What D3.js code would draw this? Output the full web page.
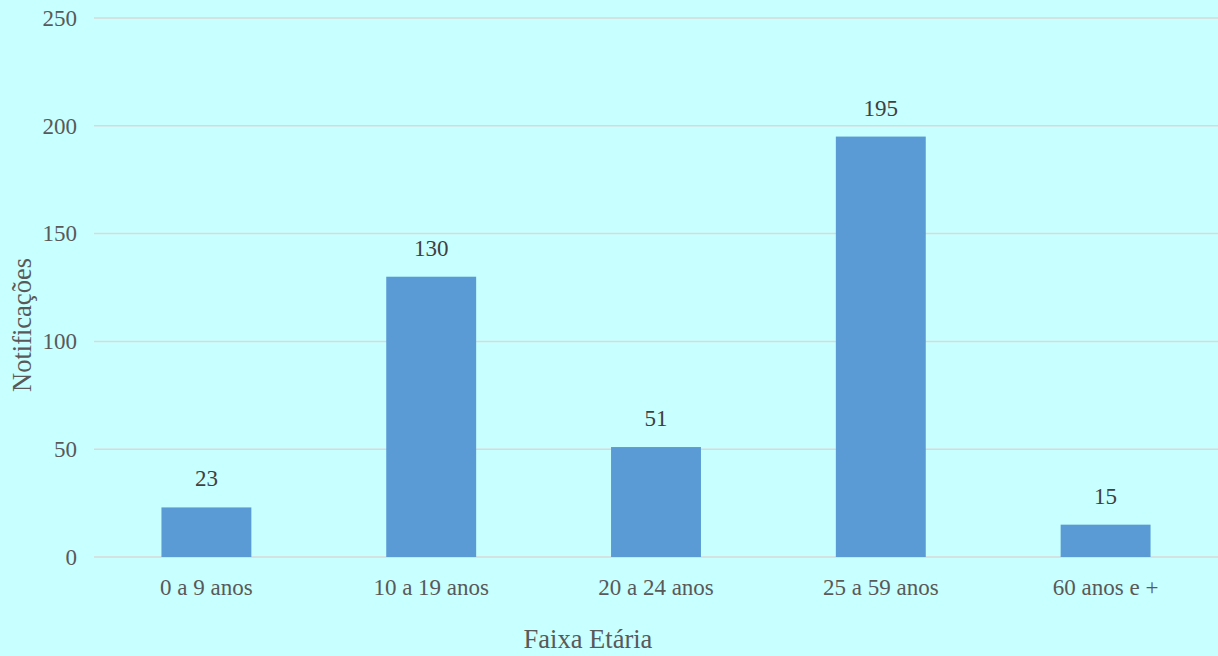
<!DOCTYPE html>
<html><head><meta charset="utf-8">
<script src="https://cdn.jsdelivr.net/npm/d3@7"></script>
<style>html,body{margin:0;padding:0;background:#C8FFFF;}svg{display:block;}</style>
</head><body>
<svg id="c" width="1218" height="656"></svg>
<script>
const categories = ["0 a 9 anos","10 a 19 anos","20 a 24 anos","25 a 59 anos","60 anos e +"];
const values = [23,130,51,195,15];
const yTicks = [0,50,100,150,200,250];

const W=1218,H=656;
const svg=d3.select("#c");
svg.append("rect").attr("width",W).attr("height",H).attr("fill","#C8FFFF");
const mLeft=94,mRight=1218,mTop=18,mBottom=557;
const x=d3.scaleBand().domain(categories).range([mLeft,mRight]).paddingInner(0.6).paddingOuter(0.3);
const y=d3.scaleLinear().domain([0,250]).range([mBottom,mTop]);
const font="Liberation Serif";

const g=svg.append("g");
g.selectAll("line.grid").data(yTicks).join("line")
 .attr("x1",mLeft).attr("x2",mRight).attr("y1",d=>y(d)).attr("y2",d=>y(d))
 .attr("stroke","#D9D9D9").attr("stroke-width",1.5);

const yAxis=d3.axisLeft(y).tickValues(yTicks).tickSize(0).tickPadding(0);
const ya=svg.append("g").attr("transform",`translate(77,0)`).call(yAxis);
ya.select(".domain").remove();
ya.attr("font-family",null).attr("font-size",null);
ya.selectAll("text").style("font-family",font).style("font-size","23px").attr("fill","#595959").attr("dy","0.32em");

g.selectAll("rect.bar").data(values).join("rect")
 .attr("x",(d,i)=>x(categories[i])).attr("width",x.bandwidth())
 .attr("y",d=>y(d)).attr("height",d=>y(0)-y(d)).attr("fill","#5B9BD5");

g.selectAll("text.lbl").data(values).join("text")
 .attr("x",(d,i)=>x(categories[i])+x.bandwidth()/2).attr("y",d=>y(d)-21)
 .attr("text-anchor","middle").style("font-family",font).style("font-size","23px").attr("fill","#404040")
 .text(d=>d);

const xAxis=d3.axisBottom(x).tickSize(0).tickPadding(0);
const xa=svg.append("g").attr("transform",`translate(0,${mBottom})`).call(xAxis);
xa.select(".domain").remove();
xa.attr("font-family",null).attr("font-size",null);
xa.selectAll("text").style("font-family",font).style("font-size","23px").attr("fill","#595959").attr("dy",0).attr("y",38);

svg.append("text").attr("x",588).attr("y",648).attr("text-anchor","middle")
 .style("font-family",font).style("font-size","26.5px").attr("fill","#595959").text("Faixa Etária");
svg.append("text").attr("transform",`translate(31,325) rotate(-90)`).attr("text-anchor","middle")
 .style("font-family",font).style("font-size","26.5px").attr("fill","#595959").text("Notificações");
</script>
</body></html>
